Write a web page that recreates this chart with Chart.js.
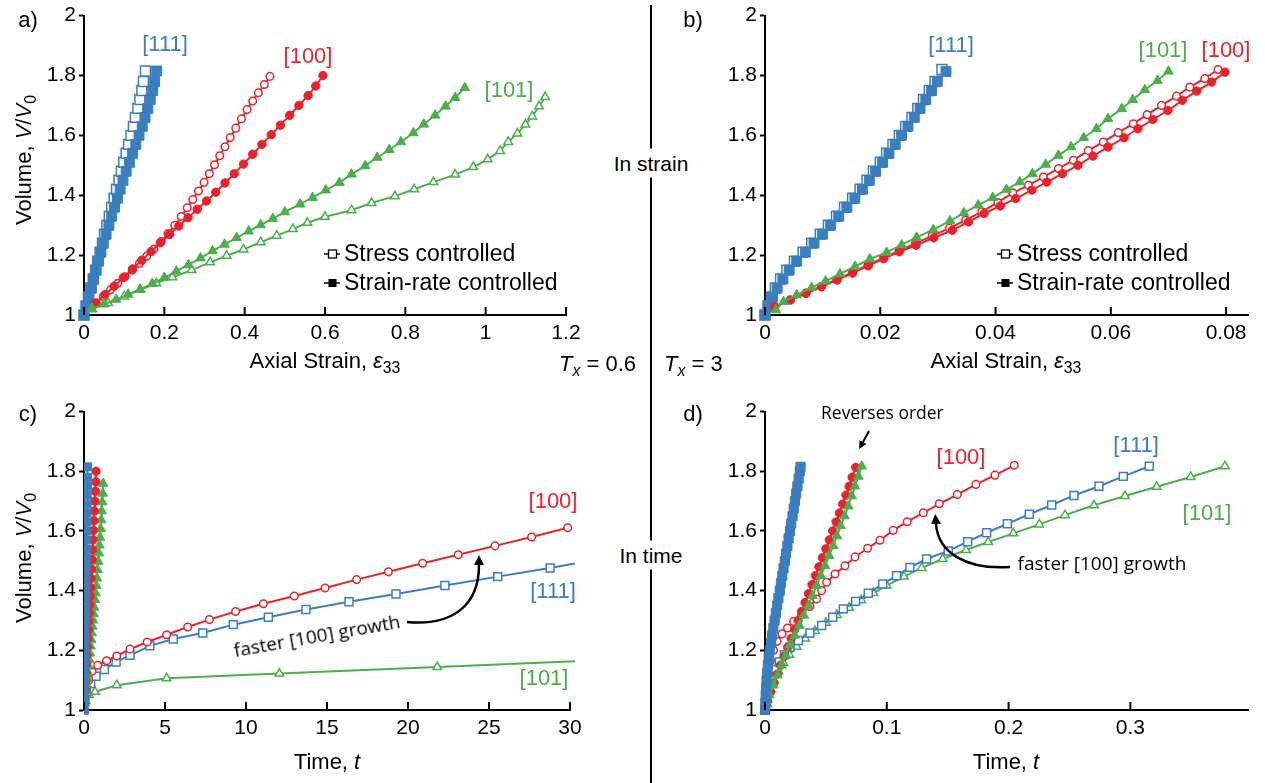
<!DOCTYPE html>
<html>
<head>
<meta charset="utf-8">
<title>Volume growth: strain vs time</title>
<script src="https://cdn.jsdelivr.net/npm/chart.js"></script>
<style>
  body { margin: 0; width: 1265px; height: 783px; position: relative; overflow: hidden; background: #fff;
         font-family: "Liberation Sans", Arial, sans-serif; color: #000; }
  canvas { position: absolute; }
  .t { position: absolute; white-space: nowrap; line-height: 1; z-index: 3; }
  .c { transform: translate(-50%, -50%); }
  .rot { transform: translate(-50%, -50%) rotate(-90deg); }
  sub { font-size: 0.72em; vertical-align: -0.3em; line-height: 0; }
  .blue { color: #3a7ebf; } .red { color: #e8232b; } .green { color: #4cae4c; }
  .tag { font-size: 22px; }
  .title { font-size: 22px; }
  .note { font-family: "Open Sans", sans-serif; font-size: 19px; }
  .leg { font-size: 23px; display: flex; align-items: center; }
  .leg svg { margin-right: 4px; }
  #divider { position: absolute; left: 650px; top: 5px; width: 2px; height: 778px; background: #000; z-index: 2; }
  .gap { background: #fff; padding: 4px 2px; }
  #notes { position: absolute; left: 0; top: 0; z-index: 4; }
</style>
</head>
<body>
<canvas id="chartA" width="620" height="380" style="left:0;top:0"></canvas>
<canvas id="chartB" width="605" height="380" style="left:660px;top:0"></canvas>
<canvas id="chartC" width="620" height="387" style="left:0;top:396px"></canvas>
<canvas id="chartD" width="605" height="387" style="left:660px;top:396px"></canvas>

<div id="divider"></div>
<div class="t c gap" style="left:651px;top:163px;font-size:21px">In strain</div>
<div class="t c gap" style="left:651px;top:555px;font-size:21px">In time</div>
<div class="t" style="right:629px;top:353px;font-size:22px"><i>T</i><sub><i>x</i></sub> = 0.6</div>
<div class="t" style="left:664px;top:353px;font-size:22px"><i>T</i><sub><i>x</i></sub> = 3</div>

<div class="t c" style="left:28px;top:20px;font-size:22px">a)</div>
<div class="t c" style="left:693px;top:20px;font-size:22px">b)</div>
<div class="t c" style="left:28px;top:414px;font-size:22px">c)</div>
<div class="t c" style="left:693px;top:414px;font-size:22px">d)</div>

<div class="t rot title" style="left:24px;top:160px">Volume, <i>V</i>/<i>V</i><sub>0</sub></div>
<div class="t rot title" style="left:24px;top:558px">Volume, <i>V</i>/<i>V</i><sub>0</sub></div>
<div class="t c title" style="left:325px;top:361px">Axial Strain, <i>ε</i><sub>33</sub></div>
<div class="t c title" style="left:1006px;top:361px">Axial Strain, <i>ε</i><sub>33</sub></div>
<div class="t c title" style="left:327px;top:762px">Time, <i>t</i></div>
<div class="t c title" style="left:1006px;top:762px">Time, <i>t</i></div>

<!-- orientation tags -->
<div class="t c tag blue" style="left:165px;top:44px">[111]</div>
<div class="t c tag red" style="left:308px;top:56px">[100]</div>
<div class="t c tag green" style="left:509px;top:90px">[101]</div>
<div class="t c tag blue" style="left:951px;top:45px">[111]</div>
<div class="t c tag green" style="left:1163px;top:50px">[101]</div>
<div class="t c tag red" style="left:1226px;top:50px">[100]</div>
<div class="t c tag red" style="left:553px;top:501px">[100]</div>
<div class="t c tag blue" style="left:553px;top:591px">[111]</div>
<div class="t c tag green" style="left:544px;top:678px">[101]</div>
<div class="t c tag red" style="left:961px;top:457px">[100]</div>
<div class="t c tag blue" style="left:1136px;top:445px">[111]</div>
<div class="t c tag green" style="left:1207px;top:513px">[101]</div>

<!-- legends -->
<div class="t leg" style="left:324px;top:242px">
  <svg width="16" height="10"><line x1="0" y1="5" x2="16" y2="5" stroke="#000" stroke-width="1.5"/><rect x="4.5" y="1" width="8" height="8" fill="#fff" stroke="#000" stroke-width="1.3"/></svg>Stress controlled</div>
<div class="t leg" style="left:324px;top:271px">
  <svg width="16" height="10"><line x1="0" y1="5" x2="16" y2="5" stroke="#000" stroke-width="1.5"/><rect x="4.5" y="1" width="8" height="8" fill="#000"/></svg>Strain-rate controlled</div>
<div class="t leg" style="left:997px;top:242px">
  <svg width="16" height="10"><line x1="0" y1="5" x2="16" y2="5" stroke="#000" stroke-width="1.5"/><rect x="4.5" y="1" width="8" height="8" fill="#fff" stroke="#000" stroke-width="1.3"/></svg>Stress controlled</div>
<div class="t leg" style="left:997px;top:271px">
  <svg width="16" height="10"><line x1="0" y1="5" x2="16" y2="5" stroke="#000" stroke-width="1.5"/><rect x="4.5" y="1" width="8" height="8" fill="#000"/></svg>Strain-rate controlled</div>

<!-- annotations -->
<div class="t c note" style="left:317px;top:636px;transform:translate(-50%,-50%) rotate(-10deg)">faster [100] growth</div>
<div class="t c note" style="left:1102px;top:563px">faster [100] growth</div>
<div class="t note" style="left:821px;top:404px;font-size:17.5px">Reverses order</div>
<svg id="notes" width="1265" height="783">
  <defs>
    <marker id="head" markerWidth="10" markerHeight="10" refX="0" refY="5" orient="auto" markerUnits="userSpaceOnUse">
      <path d="M0,0 L10,5 L0,10 Z" fill="#000"/>
    </marker>
    <marker id="headSmall" markerWidth="8" markerHeight="8" refX="0" refY="4" orient="auto" markerUnits="userSpaceOnUse">
      <path d="M0,0 L8,4 L0,8 Z" fill="#000"/>
    </marker>
  </defs>
  <path d="M407,622 C452,626 479,606 479,565" stroke="#000" stroke-width="2.5" fill="none" marker-end="url(#head)"/>
  <path d="M1010,567 C965,570 938,552 936,524" stroke="#000" stroke-width="2.5" fill="none" marker-end="url(#head)"/>
  <path d="M869,431 L863,442" stroke="#000" stroke-width="2" fill="none" marker-end="url(#headSmall)"/>
</svg>

<script>
const FONT = '"Liberation Sans", Arial, sans-serif';
const BLUE = '#3a7ebf';
const RED = '#e8232b';
const GREEN = '#4cae4c';

// tick values and labels
const yTicks = [1, 1.2, 1.4, 1.6, 1.8, 2];
const yLabels = ['1', '1.2', '1.4', '1.6', '1.8', '2'];
const xTicksA = [0, 0.2, 0.4, 0.6, 0.8, 1, 1.2];
const xLabelsA = ['0', '0.2', '0.4', '0.6', '0.8', '1', '1.2'];
const xTicksB = [0, 0.02, 0.04, 0.06, 0.08];
const xLabelsB = ['0', '0.02', '0.04', '0.06', '0.08'];
const xTicksC = [0, 5, 10, 15, 20, 25, 30];
const xLabelsC = ['0', '5', '10', '15', '20', '25', '30'];
const xTicksD = [0, 0.1, 0.2, 0.3];
const xLabelsD = ['0', '0.1', '0.2', '0.3'];

// a) Tx = 0.6, volume vs axial strain  [strain, V/V0]
const aStress111 = [[0.000,1.000],[0.005,1.030],[0.011,1.060],[0.017,1.090],[0.023,1.120],[0.029,1.150],[0.034,1.180],[0.040,1.210],[0.046,1.240],[0.051,1.270],[0.057,1.300],[0.063,1.330],[0.069,1.360],[0.075,1.390],[0.081,1.420],[0.087,1.450],[0.093,1.480],[0.099,1.510],[0.105,1.540],[0.111,1.570],[0.117,1.600],[0.123,1.630],[0.128,1.660],[0.134,1.690],[0.139,1.720],[0.144,1.750],[0.148,1.780],[0.153,1.815]];
const aRate111 = [[0.000,1.000],[0.006,1.030],[0.012,1.060],[0.018,1.090],[0.024,1.120],[0.030,1.150],[0.036,1.180],[0.042,1.210],[0.048,1.240],[0.055,1.270],[0.062,1.300],[0.069,1.330],[0.076,1.360],[0.083,1.390],[0.090,1.420],[0.097,1.450],[0.105,1.480],[0.113,1.510],[0.121,1.540],[0.129,1.570],[0.137,1.600],[0.145,1.630],[0.152,1.660],[0.159,1.690],[0.165,1.720],[0.171,1.750],[0.176,1.780],[0.181,1.815]];
const aStress100 = [[0.030,1.040],[0.048,1.062],[0.066,1.084],[0.084,1.106],[0.102,1.128],[0.120,1.150],[0.138,1.172],[0.156,1.196],[0.174,1.220],[0.192,1.245],[0.209,1.272],[0.226,1.300],[0.242,1.329],[0.257,1.358],[0.271,1.386],[0.285,1.414],[0.299,1.443],[0.312,1.472],[0.325,1.502],[0.338,1.532],[0.351,1.562],[0.364,1.593],[0.378,1.624],[0.392,1.655],[0.406,1.686],[0.420,1.715],[0.434,1.742],[0.449,1.770],[0.463,1.797]];
const aRate100 = [[0.030,1.040],[0.052,1.068],[0.075,1.096],[0.098,1.125],[0.121,1.154],[0.144,1.183],[0.167,1.212],[0.190,1.241],[0.213,1.269],[0.236,1.297],[0.259,1.325],[0.282,1.353],[0.305,1.381],[0.328,1.410],[0.351,1.441],[0.374,1.472],[0.397,1.504],[0.420,1.537],[0.443,1.570],[0.466,1.602],[0.489,1.634],[0.512,1.667],[0.535,1.700],[0.558,1.733],[0.577,1.765],[0.595,1.800]];
const aStress101 = [[0.020,1.020],[0.060,1.040],[0.100,1.062],[0.140,1.084],[0.180,1.106],[0.220,1.126],[0.268,1.150],[0.314,1.176],[0.355,1.198],[0.397,1.219],[0.440,1.243],[0.480,1.265],[0.520,1.287],[0.556,1.308],[0.600,1.328],[0.666,1.350],[0.716,1.374],[0.774,1.397],[0.822,1.420],[0.870,1.444],[0.924,1.469],[0.969,1.494],[1.005,1.520],[1.036,1.548],[1.056,1.578],[1.079,1.606],[1.099,1.636],[1.116,1.663],[1.133,1.697],[1.148,1.728]];
const aRate101 = [[0.020,1.020],[0.050,1.036],[0.080,1.052],[0.110,1.069],[0.140,1.086],[0.170,1.105],[0.200,1.125],[0.230,1.146],[0.260,1.168],[0.290,1.190],[0.320,1.214],[0.350,1.236],[0.380,1.258],[0.410,1.280],[0.440,1.301],[0.470,1.322],[0.500,1.344],[0.538,1.370],[0.569,1.392],[0.602,1.417],[0.636,1.442],[0.666,1.470],[0.700,1.498],[0.730,1.526],[0.760,1.552],[0.789,1.578],[0.820,1.608],[0.846,1.637],[0.874,1.667],[0.900,1.697],[0.924,1.726],[0.948,1.759]];

// b) Tx = 3, volume vs axial strain
const bStress111 = [[0.0000,1.000],[0.0005,1.030],[0.0011,1.060],[0.0018,1.090],[0.0027,1.120],[0.0038,1.150],[0.0051,1.180],[0.0066,1.210],[0.0081,1.240],[0.0096,1.270],[0.0110,1.300],[0.0124,1.330],[0.0138,1.360],[0.0152,1.390],[0.0165,1.420],[0.0177,1.450],[0.0188,1.480],[0.0200,1.510],[0.0211,1.540],[0.0222,1.570],[0.0233,1.600],[0.0244,1.630],[0.0255,1.660],[0.0265,1.690],[0.0275,1.720],[0.0285,1.750],[0.0295,1.780],[0.0307,1.820]];
const bRate111 = [[0.0000,1.000],[0.0006,1.030],[0.0013,1.060],[0.0021,1.090],[0.0031,1.120],[0.0042,1.150],[0.0055,1.180],[0.0070,1.210],[0.0085,1.240],[0.0100,1.270],[0.0114,1.300],[0.0128,1.330],[0.0142,1.360],[0.0156,1.390],[0.0169,1.420],[0.0181,1.450],[0.0192,1.480],[0.0204,1.510],[0.0215,1.540],[0.0226,1.570],[0.0237,1.600],[0.0248,1.630],[0.0259,1.660],[0.0269,1.690],[0.0279,1.720],[0.0289,1.750],[0.0299,1.780],[0.0314,1.813]];
const bStress100 = [[0.0017,1.028],[0.0044,1.050],[0.0071,1.073],[0.0098,1.096],[0.0125,1.119],[0.0152,1.143],[0.0179,1.167],[0.0206,1.191],[0.0233,1.215],[0.0261,1.239],[0.0290,1.264],[0.0320,1.290],[0.0348,1.317],[0.0376,1.345],[0.0404,1.376],[0.0430,1.408],[0.0457,1.433],[0.0483,1.461],[0.0509,1.489],[0.0535,1.517],[0.0561,1.549],[0.0587,1.578],[0.0613,1.609],[0.0639,1.639],[0.0663,1.669],[0.0688,1.700],[0.0714,1.731],[0.0737,1.761],[0.0763,1.790],[0.0786,1.820]];
const bRate100 = [[0.0017,1.028],[0.0044,1.050],[0.0071,1.072],[0.0098,1.094],[0.0125,1.117],[0.0152,1.140],[0.0179,1.164],[0.0206,1.188],[0.0233,1.211],[0.0262,1.233],[0.0293,1.258],[0.0325,1.283],[0.0353,1.311],[0.0380,1.339],[0.0408,1.364],[0.0435,1.389],[0.0463,1.417],[0.0489,1.444],[0.0516,1.472],[0.0543,1.500],[0.0569,1.531],[0.0595,1.561],[0.0623,1.592],[0.0647,1.622],[0.0673,1.653],[0.0699,1.683],[0.0724,1.717],[0.0749,1.748],[0.0775,1.778],[0.0798,1.811]];
const bRate101 = [[0.0019,1.017],[0.0032,1.044],[0.0055,1.067],[0.0081,1.092],[0.0105,1.113],[0.0130,1.137],[0.0156,1.162],[0.0182,1.187],[0.0211,1.209],[0.0237,1.234],[0.0263,1.259],[0.0292,1.285],[0.0321,1.314],[0.0345,1.341],[0.0370,1.367],[0.0395,1.392],[0.0419,1.419],[0.0442,1.444],[0.0464,1.472],[0.0487,1.503],[0.0509,1.533],[0.0531,1.561],[0.0553,1.592],[0.0575,1.622],[0.0595,1.656],[0.0619,1.689],[0.0638,1.719],[0.0659,1.752],[0.0681,1.783],[0.0700,1.814]];

// c) Tx = 0.6, volume vs time  [t, V/V0]
const cStress100 = [[0.00,1.000],[0.05,1.030],[0.15,1.065],[0.30,1.100],[0.50,1.130],[0.85,1.150],[1.40,1.165],[2.02,1.181],[2.84,1.204],[3.90,1.228],[5.10,1.252],[6.40,1.278],[7.74,1.303],[9.36,1.330],[11.07,1.356],[12.98,1.382],[14.88,1.409],[16.83,1.437],[18.79,1.463],[20.90,1.492],[23.10,1.520],[25.37,1.550],[27.63,1.580],[29.86,1.611]];
const cStress111 = [[0.00,1.000],[0.05,1.030],[0.15,1.060],[0.41,1.089],[0.74,1.113],[1.26,1.136],[1.98,1.161],[2.84,1.183],[4.07,1.215],[5.51,1.238],[7.33,1.258],[9.22,1.286],[11.38,1.311],[13.70,1.337],[16.36,1.363],[19.26,1.389],[22.28,1.417],[25.54,1.447],[28.77,1.476],[31.50,1.503]];
const cStress101 = [[0.00,1.000],[0.10,1.030],[0.30,1.050],[0.68,1.061],[2.02,1.083],[5.10,1.106],[12.06,1.122],[21.81,1.144],[32.00,1.167]];
const cRate111 = [[0.000,1.000],[0.008,1.030],[0.015,1.060],[0.023,1.090],[0.030,1.120],[0.038,1.150],[0.045,1.180],[0.053,1.210],[0.060,1.240],[0.069,1.270],[0.078,1.300],[0.086,1.330],[0.095,1.360],[0.104,1.390],[0.113,1.420],[0.121,1.450],[0.131,1.480],[0.141,1.510],[0.151,1.540],[0.161,1.570],[0.171,1.600],[0.181,1.630],[0.190,1.660],[0.199,1.690],[0.206,1.720],[0.214,1.750],[0.220,1.780],[0.226,1.815]];
const cRate100 = [[0.038,1.040],[0.065,1.068],[0.094,1.096],[0.123,1.125],[0.151,1.154],[0.180,1.183],[0.209,1.212],[0.238,1.241],[0.266,1.269],[0.295,1.297],[0.324,1.325],[0.353,1.353],[0.381,1.381],[0.410,1.410],[0.439,1.441],[0.468,1.472],[0.496,1.504],[0.525,1.537],[0.554,1.570],[0.583,1.602],[0.611,1.634],[0.640,1.667],[0.669,1.700],[0.698,1.733],[0.721,1.765],[0.744,1.800]];
const cRate101 = [[0.025,1.020],[0.063,1.036],[0.100,1.052],[0.138,1.069],[0.175,1.086],[0.213,1.105],[0.250,1.125],[0.288,1.146],[0.325,1.168],[0.363,1.190],[0.400,1.214],[0.438,1.236],[0.475,1.258],[0.513,1.280],[0.550,1.301],[0.588,1.322],[0.625,1.344],[0.673,1.370],[0.711,1.392],[0.753,1.417],[0.795,1.442],[0.833,1.470],[0.875,1.498],[0.913,1.526],[0.950,1.552],[0.986,1.578],[1.025,1.608],[1.058,1.637],[1.093,1.667],[1.125,1.697],[1.155,1.726],[1.185,1.759]];

// d) Tx = 3, volume vs time
const dStress100 = [[0.0000,1.000],[0.0015,1.060],[0.0030,1.120],[0.0045,1.165],[0.0070,1.200],[0.0100,1.230],[0.0140,1.255],[0.0185,1.275],[0.0235,1.297],[0.0300,1.320],[0.0369,1.347],[0.0424,1.372],[0.0465,1.400],[0.0506,1.428],[0.0575,1.456],[0.0657,1.483],[0.0739,1.513],[0.0843,1.542],[0.0944,1.569],[0.1053,1.602],[0.1168,1.631],[0.1300,1.661],[0.1431,1.691],[0.1579,1.722],[0.1732,1.756],[0.1888,1.787],[0.2047,1.820]];
const dStress111 = [[0.0000,1.000],[0.0015,1.040],[0.0030,1.075],[0.0055,1.111],[0.0088,1.136],[0.0118,1.161],[0.0160,1.185],[0.0205,1.211],[0.0274,1.233],[0.0369,1.258],[0.0465,1.283],[0.0556,1.311],[0.0643,1.339],[0.0744,1.364],[0.0848,1.391],[0.0966,1.422],[0.1080,1.450],[0.1190,1.478],[0.1327,1.506],[0.1505,1.533],[0.1664,1.564],[0.1820,1.594],[0.1990,1.624],[0.2170,1.656],[0.2354,1.687],[0.2537,1.719],[0.2742,1.750],[0.2942,1.783],[0.3155,1.817]];
const dStress101 = [[0.0000,1.000],[0.0020,1.035],[0.0045,1.070],[0.0075,1.100],[0.0110,1.130],[0.0150,1.158],[0.0200,1.185],[0.0260,1.212],[0.0330,1.240],[0.0410,1.265],[0.0500,1.292],[0.0590,1.318],[0.0690,1.343],[0.0790,1.368],[0.0890,1.392],[0.0999,1.417],[0.1141,1.447],[0.1286,1.476],[0.1459,1.506],[0.1650,1.536],[0.1833,1.563],[0.2039,1.592],[0.2252,1.622],[0.2463,1.653],[0.2701,1.686],[0.2956,1.717],[0.3216,1.748],[0.3495,1.781],[0.3777,1.817]];
const dRate111 = [[0.0000,1.000],[0.0003,1.025],[0.0006,1.050],[0.0009,1.075],[0.0013,1.100],[0.0018,1.125],[0.0023,1.150],[0.0030,1.175],[0.0039,1.200],[0.0049,1.225],[0.0059,1.250],[0.0069,1.275],[0.0079,1.300],[0.0089,1.325],[0.0099,1.350],[0.0110,1.375],[0.0121,1.400],[0.0131,1.425],[0.0142,1.450],[0.0152,1.475],[0.0163,1.500],[0.0173,1.525],[0.0184,1.550],[0.0194,1.575],[0.0205,1.600],[0.0215,1.625],[0.0226,1.650],[0.0236,1.675],[0.0246,1.700],[0.0256,1.725],[0.0266,1.750],[0.0276,1.775],[0.0286,1.800],[0.0292,1.815]];
const dRate100 = [[0.0020,1.030],[0.0045,1.060],[0.0072,1.090],[0.0100,1.120],[0.0128,1.150],[0.0157,1.180],[0.0186,1.210],[0.0215,1.240],[0.0244,1.270],[0.0272,1.300],[0.0300,1.330],[0.0329,1.360],[0.0357,1.390],[0.0386,1.420],[0.0414,1.450],[0.0443,1.480],[0.0471,1.510],[0.0500,1.540],[0.0528,1.570],[0.0556,1.600],[0.0584,1.630],[0.0611,1.660],[0.0638,1.690],[0.0665,1.720],[0.0691,1.750],[0.0716,1.780],[0.0745,1.813]];
const dRate101 = [[0.0020,1.020],[0.0035,1.050],[0.0068,1.083],[0.0102,1.117],[0.0137,1.150],[0.0171,1.183],[0.0205,1.217],[0.0244,1.250],[0.0282,1.283],[0.0319,1.317],[0.0356,1.350],[0.0390,1.383],[0.0424,1.417],[0.0459,1.450],[0.0493,1.483],[0.0527,1.517],[0.0561,1.550],[0.0591,1.583],[0.0621,1.617],[0.0653,1.650],[0.0684,1.683],[0.0712,1.717],[0.0739,1.750],[0.0767,1.783],[0.0794,1.817]];

const CLIP = { left: 8, top: 8, right: 5, bottom: 6 };
const CLIP_C = { left: 0, top: 8, right: 5, bottom: 6 };

function series(points, color, shape, filled, order, opts = {}) {
    let radius = 4;
    if (shape === 'circle') radius = filled ? 4.2 : 3.8;
    if (shape === 'rect') radius = 5.6;
    if (shape === 'triangle') radius = filled ? 5.6 : 5;
    return {
        data: points.map(([x, y]) => ({ x, y })),
        showLine: true,
        order,
        clip: opts.clip || CLIP,
        borderColor: color,
        borderWidth: 2,
        pointStyle: shape,
        pointRadius: opts.radius || radius,
        pointBackgroundColor: filled ? color : '#fff',
        pointBorderColor: color,
        pointBorderWidth: filled ? 1 : 1.5
    };
}

// x ticks point up into the plot
const innerTicks = {
    id: 'innerTicks',
    afterDraw(chart) {
        const { ctx, chartArea, scales: { x } } = chart;
        ctx.save();
        ctx.strokeStyle = '#000';
        ctx.lineWidth = 2;
        x.ticks.forEach(tick => {
            const px = x.getPixelForValue(tick.value);
            ctx.beginPath();
            ctx.moveTo(px, chartArea.bottom);
            ctx.lineTo(px, chartArea.bottom - 8);
            ctx.stroke();
        });
        ctx.restore();
    }
};

function buildChart(id, frame, xTicks, xLabels, xMax, datasets) {
    const canvas = document.getElementById(id);
    return new Chart(canvas, {
        type: 'scatter',
        data: { datasets },
        options: {
            responsive: false,
            animation: false,
            events: [],
            layout: { padding: { top: frame.plotTop, right: frame.padRight, left: 0, bottom: 0 } },
            plugins: { legend: { display: false }, tooltip: { enabled: false } },
            scales: {
                x: {
                    type: 'linear',
                    min: 0,
                    max: xMax,
                    afterBuildTicks: scale => { scale.ticks = xTicks.map(value => ({ value })); },
                    afterFit: scale => { scale.height = frame.xAxisHeight; },
                    ticks: {
                        callback: (value, i) => xLabels[i],
                        color: '#000',
                        font: { family: FONT, size: 21 },
                        padding: 6,
                        maxRotation: 0
                    },
                    grid: { drawOnChartArea: false, drawTicks: false, color: '#000' },
                    border: { color: '#000', width: 2 }
                },
                y: {
                    type: 'linear',
                    min: 1,
                    max: 2,
                    afterBuildTicks: scale => { scale.ticks = yTicks.map(value => ({ value })); },
                    afterFit: scale => { scale.width = frame.yAxisWidth; },
                    ticks: {
                        callback: (value, i) => yLabels[i],
                        color: '#000',
                        font: { family: FONT, size: 21 },
                        padding: 3
                    },
                    grid: { drawOnChartArea: false, tickLength: 5, tickWidth: 2, color: '#000' },
                    border: { color: '#000', width: 2 }
                }
            }
        },
        plugins: [innerTicks]
    });
}

// dense square runs use bigger markers
const BIG_SQ = { radius: 7 };

buildChart('chartA', { plotTop: 15, padRight: 54, xAxisHeight: 65, yAxisWidth: 84 },
    xTicksA, xLabelsA, 1.2, [
        series(aStress111, BLUE, 'rect', false, 5, BIG_SQ),
        series(aRate111, BLUE, 'rect', true, 4, BIG_SQ),
        series(aStress100, RED, 'circle', false, 3),
        series(aRate100, RED, 'circle', true, 2),
        series(aStress101, GREEN, 'triangle', false, 1),
        series(aRate101, GREEN, 'triangle', true, 0)
    ]);

buildChart('chartB', { plotTop: 15, padRight: 17, xAxisHeight: 65, yAxisWidth: 105 },
    xTicksB, xLabelsB, 0.0838, [
        series(bStress111, BLUE, 'rect', false, 5, BIG_SQ),
        series(bRate111, BLUE, 'rect', true, 4, BIG_SQ),
        series(bStress100, RED, 'circle', false, 3),
        series(bRate100, RED, 'circle', true, 2),
        series(bRate101, GREEN, 'triangle', true, 0)
    ]);

buildChart('chartC', { plotTop: 15, padRight: 50, xAxisHeight: 73, yAxisWidth: 84 },
    xTicksC, xLabelsC, 30, [
        series(cStress101, GREEN, 'triangle', false, 6, { clip: CLIP_C }),
        series(cStress111, BLUE, 'rect', false, 5, { clip: CLIP_C }),
        series(cStress100, RED, 'circle', false, 4, { clip: CLIP_C }),
        series(cRate101, GREEN, 'triangle', true, 3, { clip: CLIP_C }),
        series(cRate100, RED, 'circle', true, 2, { clip: CLIP_C }),
        series(cRate111, BLUE, 'rect', true, 1, { clip: CLIP_C })
    ]);

buildChart('chartD', { plotTop: 15, padRight: 17, xAxisHeight: 73, yAxisWidth: 105 },
    xTicksD, xLabelsD, 0.3966, [
        series(dStress101, GREEN, 'triangle', false, 6),
        series(dStress111, BLUE, 'rect', false, 5),
        series(dStress100, RED, 'circle', false, 4),
        series(dRate100, RED, 'circle', true, 3),
        series(dRate101, GREEN, 'triangle', true, 2),
        series(dRate111, BLUE, 'rect', true, 1, { radius: 6.5 })
    ]);
</script>
</body>
</html>
